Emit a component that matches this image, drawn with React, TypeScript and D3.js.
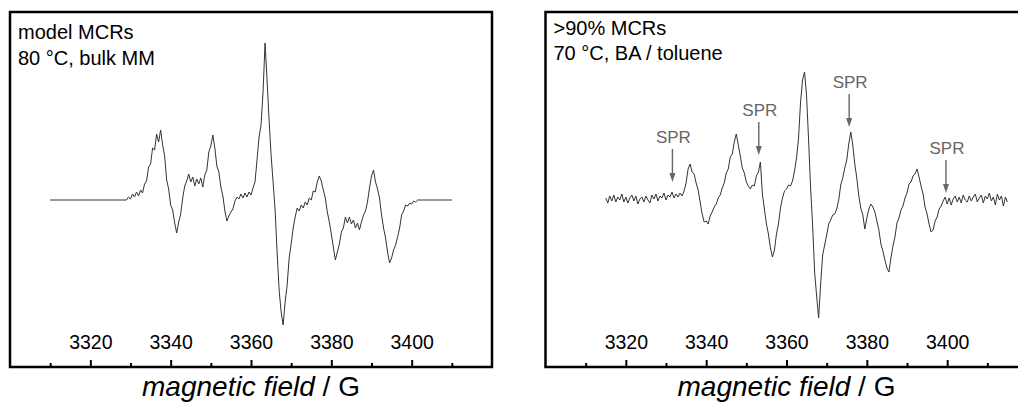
import React, { useEffect, useRef } from "react";
import * as d3 from "d3";

// field sweep (G) shared by both panels
const fieldDomain = [3300, 3420];
const majorTicks = [3320, 3340, 3360, 3380, 3400];
const minorTicks = [3310, 3330, 3350, 3370, 3390, 3410];
const intensityDomain = [-167, 188]; // a.u.

// left panel: model MCRs, recorded window padded with a flat baseline
const leftTitle = ["model MCRs", "80 °C, bulk MM"];
const leftEnds = [3310, 3410];
const leftStart = 3329;
const leftStep = 0.5;
const leftSignal = [
  0, 3, 1, 6, 3, 8, 4, 10, 7, 16,
  19, 33, 36, 52, 50, 66, 58, 70, 55, 44,
  20, 11, -5, -10, -23, -33, -22, -14, 2, 14,
  19, 26, 18, 23, 14, 21, 16, 22, 13, 25,
  30, 48, 54, 65, 52, 34, 28, 13, 4, -11,
  -21, -16, -12, -9, -1, 3, 1, 6, 2, 7,
  3, 8, 5, 12, 18, 40, 63, 75, 108, 157,
  120, 80, 45, 18, -10, -52, -90, -112, -125, -102,
  -85, -58, -44, -28, -17, -8, -11, -5, -8, -2,
  -5, 2, 0, 9, 8, 18, 24, 19, 10, 2,
  -12, -22, -34, -47, -60, -52, -44, -32, -28, -17,
  -23, -17, -24, -20, -28, -23, -30, -22, -15, -11,
  -2, 12, 24, 30, 18, 11, 2, -15, -28, -38,
  -52, -63, -58, -50, -45, -37, -28, -15, -11, -5,
  -6, -3, -4, -1, -2, 0,
];

// right panel: >90% MCRs
const rightTitle = [">90% MCRs", "70 °C, BA / toluene"];
const rightStart = 3315;
const rightStep = 0.5;
const rightSignal = [
  2, -3, 4, -1, 5, -2, 3, 0, 6, -2,
  3, -3, 2, 5, -1, 4, -4, 1, 3, -2,
  4, 0, -3, 5, 1, 6, -1, 4, 2, 7,
  0, 5, 3, 8, 2, 6, 3, 7, 4, 9,
  17, 31, 36, 28, 26, 17, 10, -2, -14, -22,
  -21, -24, -16, -12, -7, -4, 2, 5, 12, 17,
  27, 31, 43, 46, 58, 66, 55, 44, 32, 27,
  18, 14, 11, 15, 14, 24, 28, 38, 6, -9,
  -24, -34, -48, -57, -50, -34, -24, -8, 2, 9,
  11, 15, 14, 19, 29, 42, 62, 98, 120, 128,
  104, 60, 12, -25, -72, -96, -118, -84, -55, -45,
  -35, -24, -20, -15, -14, -9, 0, 15, 22, 32,
  40, 56, 68, 55, 36, 22, 4, -8, -15, -29,
  -18, -9, -4, -7, -12, -21, -30, -44, -51, -60,
  -68, -72, -58, -46, -37, -23, -18, -10, -6, 2,
  7, 16, 18, 24, 26, 31, 23, 14, 6, -7,
  -14, -24, -32, -30, -21, -17, -9, -6, -1, 3,
  -4, 2, -5, 1, 4, -2, 3, -3, 5, 0,
  -2, 4, -1, 3, 6, -2, 2, 5, -3, 4,
  1, 7, -1, 3, -5, 6, 0, 4, -6, 3,
  -2,
];

// SPR markers on the right spectrum (field, intensity at arrow tip)
const sprFields = [3331.6, 3353.1, 3375.6, 3399.7];
const sprTips = [18, 45, 73, 7];

const FONT = "'Liberation Sans', Arial, Helvetica, sans-serif";

export default function App() {
  const ref = useRef<SVGSVGElement>(null);

  useEffect(() => {
    const svg = d3.select(ref.current);
    svg.selectAll("*").remove();

    const top = 12;
    const bottom = 367;

    const leftData: [number, number][] = [
      [leftEnds[0], 0],
      ...leftSignal.map((v, i) => [leftStart + i * leftStep, v] as [number, number]),
      [leftEnds[1], 0],
    ];
    const rightData: [number, number][] = rightSignal.map(
      (v, i) => [rightStart + i * rightStep, v] as [number, number]
    );

    const panels = [
      { x0: 10, x1: 492, data: leftData, title: leftTitle, titleY: [39, 65], spr: false },
      { x0: 545.5, x1: 1027.5, data: rightData, title: rightTitle, titleY: [35, 60], spr: true },
    ];

    const y = d3.scaleLinear().domain(intensityDomain).range([bottom, top]);

    panels.forEach((p, k) => {
      const x = d3.scaleLinear().domain(fieldDomain).range([p.x0, p.x1]);
      const g = svg.append("g");

      g.append("clipPath")
        .attr("id", "clip" + k)
        .append("rect")
        .attr("x", p.x0)
        .attr("y", top)
        .attr("width", p.x1 - p.x0)
        .attr("height", bottom - top);

      const line = d3
        .line<[number, number]>()
        .x((d) => x(d[0]))
        .y((d) => y(d[1]));

      g.append("path")
        .datum(p.data)
        .attr("clip-path", `url(#clip${k})`)
        .attr("d", line)
        .attr("fill", "none")
        .attr("stroke", "#333")
        .attr("stroke-width", 1)
        .attr("stroke-linejoin", "round");

      // minor + major ticks point inward from the bottom edge
      const minor = g
        .append("g")
        .attr("transform", `translate(0,${bottom})`)
        .call(d3.axisTop(x).tickValues(minorTicks).tickSize(4).tickFormat(() => ""));
      minor.select(".domain").remove();
      minor.selectAll("line").attr("stroke", "#000").attr("stroke-width", 2);

      const major = g
        .append("g")
        .attr("transform", `translate(0,${bottom})`)
        .call(
          d3.axisTop(x).tickValues(majorTicks).tickSize(7).tickPadding(11).tickFormat(d3.format("d"))
        )
        .attr("font-size", 19.5)
        .attr("font-family", FONT);
      major.select(".domain").remove();
      major.selectAll("line").attr("stroke", "#000").attr("stroke-width", 2);
      major.selectAll("text").attr("fill", "#000");

      g.append("rect")
        .attr("x", p.x0)
        .attr("y", top)
        .attr("width", p.x1 - p.x0)
        .attr("height", bottom - top)
        .attr("fill", "none")
        .attr("stroke", "#000")
        .attr("stroke-width", 2.5);

      p.title.forEach((t, i) => {
        g.append("text")
          .attr("x", p.x0 + 8)
          .attr("y", p.titleY[i])
          .attr("font-family", FONT)
          .attr("font-size", 20)
          .attr("fill", "#000")
          .text(t);
      });

      const label = g
        .append("text")
        .attr("x", (p.x0 + p.x1) / 2)
        .attr("y", 396)
        .attr("text-anchor", "middle")
        .attr("font-family", FONT)
        .attr("font-size", 28)
        .attr("fill", "#000");
      label.append("tspan").attr("font-style", "italic").text("magnetic field");
      label.append("tspan").text(" / G");

      if (p.spr) {
        const arrowLen = 33;
        sprFields.forEach((f, i) => {
          const ax = x(f);
          const tip = y(sprTips[i]);
          g.append("line")
            .attr("x1", ax)
            .attr("x2", ax)
            .attr("y1", tip - arrowLen)
            .attr("y2", tip - 6)
            .attr("stroke", "#666")
            .attr("stroke-width", 1.4);
          g.append("path")
            .attr("d", `M${ax},${tip} L${ax - 3},${tip - 9} L${ax + 3},${tip - 9} Z`)
            .attr("fill", "#666");
          g.append("text")
            .attr("x", ax + 1)
            .attr("y", tip - arrowLen - 6)
            .attr("text-anchor", "middle")
            .attr("font-family", FONT)
            .attr("font-size", 17)
            .attr("fill", "#666")
            .text("SPR");
        });
      }
    });
  }, []);

  return (
    <svg
      ref={ref}
      width={1018}
      height={403}
      style={{ position: "absolute", left: 0, top: 0, background: "#fff" }}
    />
  );
}
